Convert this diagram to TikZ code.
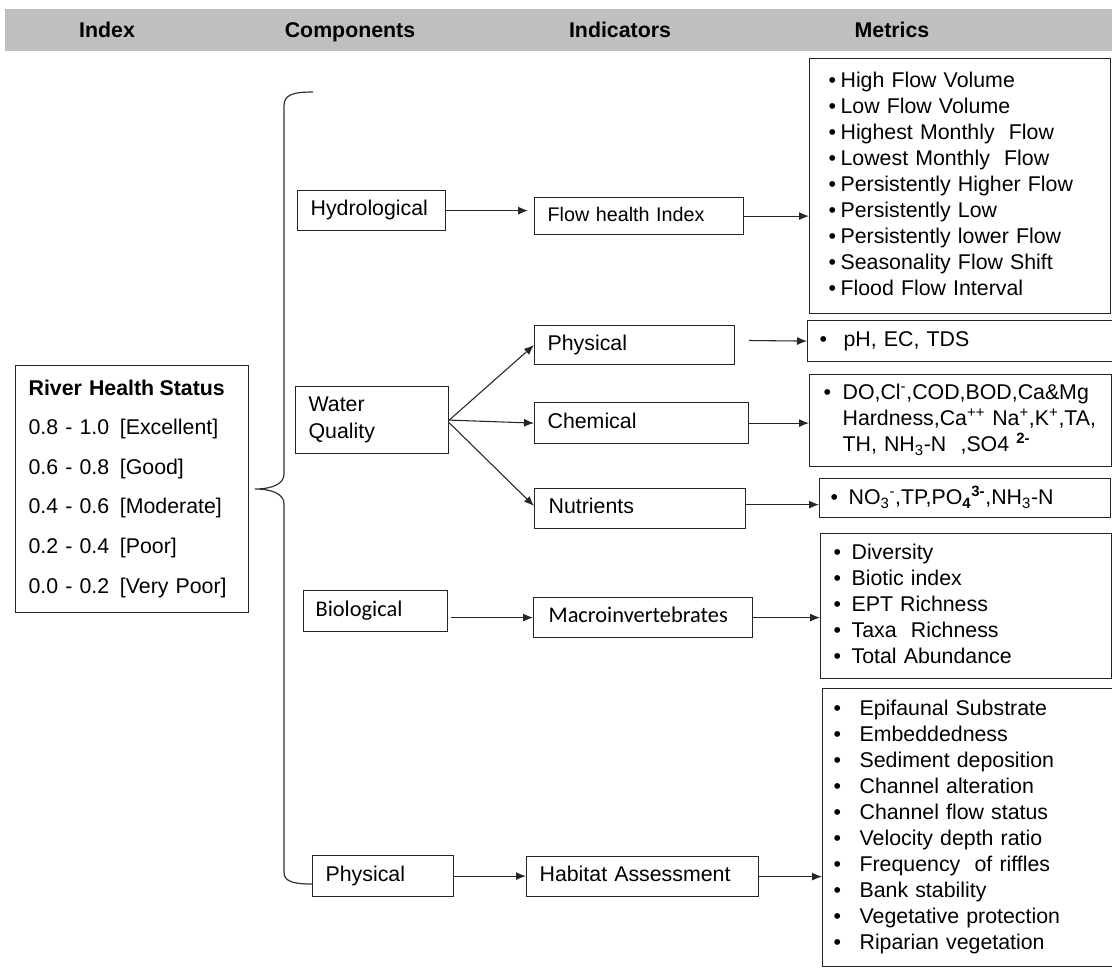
\documentclass[tikz,border=0pt]{standalone}
\usepackage{fontspec}
\setmainfont{Liberation Sans}
\newfontfamily\calibfont{Carlito}
\usetikzlibrary{arrows.meta}
\newcommand\fsA{\fontsize{16}{19.5}\selectfont}
\newcommand\fsB{\fontsize{14.8}{18}\selectfont}
\newcommand\fsC{\calibfont\fontsize{16.8}{20}\selectfont}
\newcommand\fsL{\fontsize{16}{29.7}\selectfont}
\newcommand\fsW{\fontsize{16}{20.25}\selectfont}
\newcommand\capstrut{\rule[-4pt]{0pt}{15.46pt}}
\newcommand\bitem[2]{\mbox{\makebox[\dimexpr0.75pt*#1\relax][l]{•}#2}}
\newcommand\bcont[2]{\mbox{\hspace*{\dimexpr0.75pt*#1\relax}#2}}
\tikzset{
  box/.style={draw=black!85, line width=0.9pt, anchor=north west, align=left, inner ysep=0pt, text=black},
  arr/.style={-{Latex[length=7.5pt,width=6pt]}, line width=0.8pt, draw=black!85},
  hd/.style={font=\bfseries\fontsize{16}{19}\selectfont, text=black, anchor=base},
  brace/.style={draw=black!80, line width=0.9pt},
}
\newcommand\bx[8]{%
  \pgfmathsetmacro\tw{(#4-2*#6)*0.75}%
  \pgfmathsetmacro\mw{#4*0.75}%
  \pgfmathsetmacro\mh{#5*0.75}%
  \pgfmathsetmacro\ix{#6*0.75}%
  \node[box, minimum width=\mw pt, minimum height=\mh pt, inner xsep=\ix pt, text width=\tw pt, font=#7] (#1) at (#2,#3) {\capstrut#8\capstrut};}
\begin{document}
\begin{tikzpicture}[x=0.75pt,y=-0.75pt]
\useasboundingbox (0,0) rectangle (1112,967);
\fill[white] (0,0) rectangle (1112,967);
% header band
\fill[black!25] (5,9) rectangle (1112,51);
\node[hd] (hIndex) at (107,37.6) {Index};
\node[hd] (hComp) at (350,37.6) {Components};
\node[hd] (hInd) at (620,37.6) {Indicators};
\node[hd] (hMet) at (892,37.6) {Metrics};

% index box
\bx{rhs}{15}{365}{233}{247}{13}{\fsL}{\textbf{River Health\hspace{4pt}Status}\\
0.8 - 1.0\enspace[Excellent]\\
0.6 - 0.8\enspace[Good]\\
0.4 - 0.6\enspace[Moderate]\\
0.2 - 0.4\enspace[Poor]\\
0.0 - 0.2\enspace[Very Poor]}

% components
\bx{hyd}{297}{190}{148}{40}{13}{\fsA}{Hydrological}
\bx{wq}{295}{386}{153}{67}{13}{\fsW}{Water\\Quality}
\bx{bio}{303}{590}{144}{41}{12}{\fsC}{Biological}
\bx{phy2}{312}{855}{141}{41}{13}{\fsA}{Physical}

% indicators
\bx{flow}{534}{197}{209}{37}{13}{\fsB}{Flow health Index}
\bx{phys}{534}{325}{200}{39}{13}{\fsA}{Physical}
\bx{chem}{534}{402}{214}{41}{13}{\fsA}{Chemical}
\bx{nutr}{534}{488}{211}{40}{14}{\fsA}{Nutrients}
\bx{macro}{533}{597}{219}{40}{15}{\fsC}{Macroinvertebrates}
\bx{hab}{526}{856}{232}{40}{13}{\fsA}{Habitat Assessment}

% metrics
\bx{mflow}{809}{58}{301}{255}{19}{\fsA}{%
\bitem{12}{High Flow Volume}\\
\bitem{12}{Low Flow Volume}\\
\bitem{12}{Highest Monthly\ \ Flow}\\
\bitem{12}{Lowest Monthly\ \ Flow}\\
\bitem{12}{Persistently Higher Flow}\\
\bitem{12}{Persistently Low}\\
\bitem{12}{Persistently lower Flow}\\
\bitem{12}{Seasonality Flow Shift}\\
\bitem{12}{Flood Flow Interval}}
\bx{mph}{807}{320}{306}{41}{12}{\fsA}{\bitem{24}{pH,\ EC,\ TDS}}
\bx{mchem}{809}{374}{302}{92}{14}{\fsA}{%
\bitem{19}{DO,Cl\textsuperscript{-},COD,BOD,Ca\&Mg}\\
\bcont{19}{Hardness,Ca\textsuperscript{++} Na\textsuperscript{+},K\textsuperscript{+},TA,}\\
\bcont{19}{TH,\ NH\textsubscript{3}-N\ \ ,SO4 \textsuperscript{\textbf{2-}}}}
\bx{mnut}{819}{478}{291}{39}{11}{\fsA}{\bitem{18}{NO\textsubscript{3}\textsuperscript{-},TP,PO\textsubscript{\textbf{4}}\textsuperscript{\textbf{3-}},NH\textsubscript{3}-N}}
\bx{mbio}{820}{533}{291}{145}{13}{\fsA}{%
\bitem{18}{Diversity}\\
\bitem{18}{Biotic index}\\
\bitem{18}{EPT Richness}\\
\bitem{18}{Taxa\ \ Richness}\\
\bitem{18}{Total Abundance}}
\bx{mhab}{822}{688}{295}{278}{11}{\fsA}{%
\bitem{26}{Epifaunal Substrate}\\
\bitem{26}{Embeddedness}\\
\bitem{26}{Sediment deposition}\\
\bitem{26}{Channel alteration}\\
\bitem{26}{Channel flow status}\\
\bitem{26}{Velocity depth ratio}\\
\bitem{26}{Frequency\ \ of riffles}\\
\bitem{26}{Bank stability}\\
\bitem{26}{Vegetative protection}\\
\bitem{26}{Riparian vegetation}}

% brace
\draw[brace] (313,92) .. controls (292,92) and (284,95) .. (284,106) -- (284,474)
  .. controls (284,484) and (272,489) .. (255,489)
  .. controls (272,489) and (284,494) .. (284,504) -- (284,872)
  .. controls (284,881) and (292,884) .. (312,884);

% connectors
\draw[arr, shorten >=4.5pt] (hyd.east) -- (hyd.east -| flow.west);
\draw[arr] (flow.east) -- (flow.east -| mflow.west);
\draw[arr] (wq.east) -- (phys.west);
\draw[arr] (wq.east) -- (chem.west);
\draw[arr] ([yshift=-2pt]wq.east) -- ([yshift=2pt]nutr.west);
\coordinate (physout) at (749,340.5);
\draw[arr] (physout) -- (mph.west);
\draw[arr] (chem.east) -- (chem.east -| mchem.west);
\draw[arr] ([yshift=3pt]nutr.east) -- ([yshift=3pt]nutr.east -| mnut.west);
\draw[arr, shorten <=2pt] (macro.west -| bio.east) -- (macro.west);
\draw[arr] (macro.east) -- (macro.east -| mbio.west);
\draw[arr] (phy2.east) -- (phy2.east -| hab.west);
\draw[arr] (hab.east) -- (hab.east -| mhab.west);
\end{tikzpicture}
\end{document}
